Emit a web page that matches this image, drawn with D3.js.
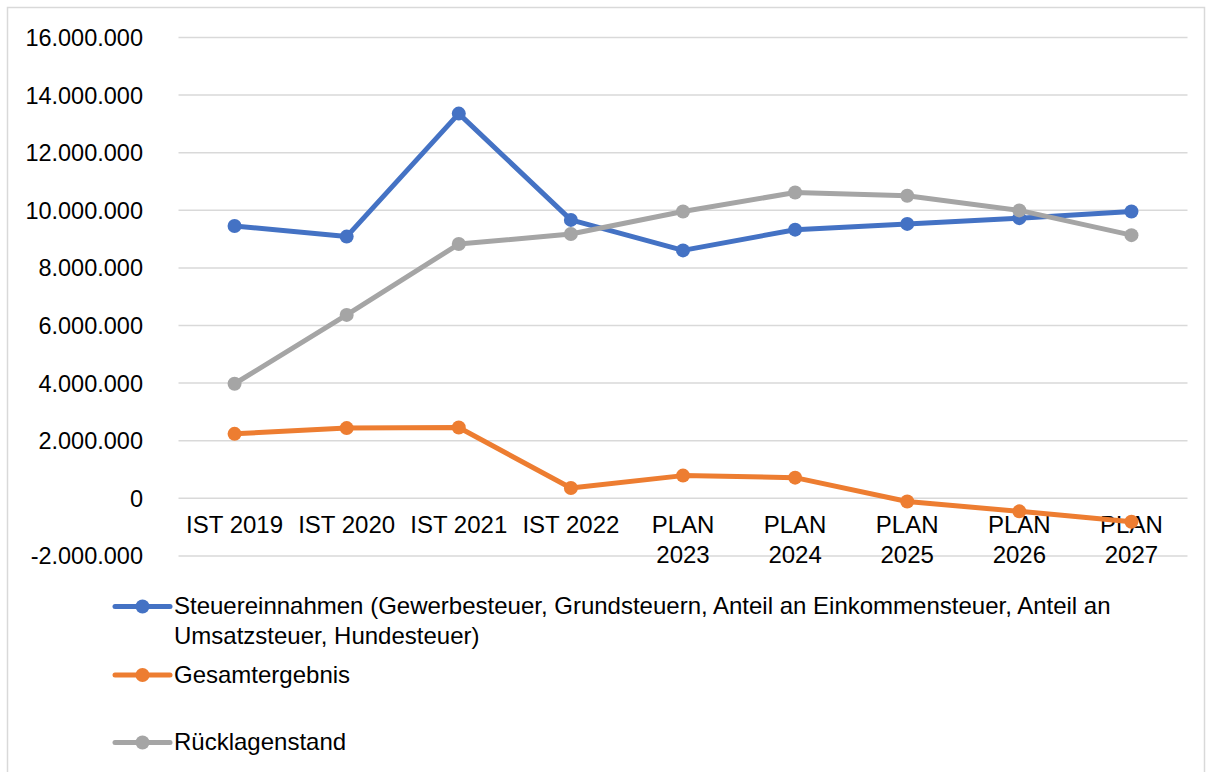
<!DOCTYPE html>
<html>
<head>
<meta charset="utf-8">
<script src="https://cdn.jsdelivr.net/npm/d3@7"></script>
<style>
  body { margin: 0; background: #fff; }
  svg { font-family: "Liberation Sans", Arial, sans-serif; }
  .axis text { font-size: 24px; fill: #000; }
  .axis.y text { font-size: 23.5px; }
  .grid line { stroke: #d9d9d9; stroke-width: 1.5; }
  .legend text { font-size: 24px; fill: #000; }
</style>
</head>
<body>
<div id="chart"></div>
<script>
const categories = ['IST 2019', 'IST 2020', 'IST 2021', 'IST 2022', 'PLAN 2023', 'PLAN 2024', 'PLAN 2025', 'PLAN 2026', 'PLAN 2027'];
const steuern = [9440000, 9070000, 13340000, 9650000, 8590000, 9310000, 9510000, 9710000, 9940000];
const gesamt = [2220000, 2420000, 2440000, 340000, 770000, 700000, -130000, -470000, -830000];
const ruecklagen = [3960000, 6350000, 8810000, 9160000, 9940000, 10600000, 10490000, 9980000, 9120000];
const yTicks = [-2000000, 0, 2000000, 4000000, 6000000, 8000000, 10000000, 12000000, 14000000, 16000000];

const series = [
  { name: ['Steuereinnahmen (Gewerbesteuer, Grundsteuern, Anteil an Einkommensteuer, Anteil an', 'Umsatzsteuer, Hundesteuer)'], values: steuern, color: '#4472c4' },
  { name: ['Gesamtergebnis'], values: gesamt, color: '#ed7d31' },
  { name: ['Rücklagenstand'], values: ruecklagen, color: '#a5a5a5' }
];

const width = 1212;
const height = 772;
const margins = { top: 37, right: 24.5, left: 178.5, bottom: 0 };
const plotRight = width - margins.right;

const svg = d3.select('#chart')
  .append('svg')
  .attr('width', width)
  .attr('height', height);

// chart frame
svg.append('rect')
  .attr('x', 7.5)
  .attr('y', 7.5)
  .attr('width', 1197)
  .attr('height', 780)
  .attr('fill', 'none')
  .attr('stroke', '#d9d9d9')
  .attr('stroke-width', 1.5);

const xScale = d3.scalePoint()
  .domain(categories)
  .range([margins.left, plotRight])
  .padding(0.5);

const yScale = d3.scaleLinear()
  .domain([-2000000, 16000000])
  .range([555.4, 37]);

const de = d3.formatLocale({ decimal: ',', thousands: '.', grouping: [3], currency: ['', ' €'], minus: '-' });
const fmt = de.format(',.0f');

// grid
svg.append('g')
  .attr('class', 'grid')
  .attr('transform', `translate(${margins.left},0)`)
  .call(d3.axisLeft(yScale).tickValues(yTicks).tickSize(-(plotRight - margins.left)).tickFormat(''))
  .call(g => g.select('.domain').remove());

// y axis labels
svg.append('g')
  .attr('class', 'axis y')
  .attr('transform', 'translate(143,0)')
  .call(d3.axisLeft(yScale).tickValues(yTicks).tickSize(0).tickPadding(0).tickFormat(fmt))
  .call(g => g.select('.domain').remove())
  .call(g => g.selectAll('text').attr('dy', '0.36em'));

// x axis labels
const xLabels = svg.append('g')
  .attr('class', 'axis x')
  .selectAll('text')
  .data(categories)
  .enter()
  .append('text')
  .attr('x', d => xScale(d))
  .attr('y', 533)
  .style('text-anchor', 'middle');

xLabels.each(function (d) {
  const lines = d.startsWith('PLAN') ? d.split(' ') : [d];
  d3.select(this).selectAll('tspan')
    .data(lines)
    .enter()
    .append('tspan')
    .attr('x', xScale(d))
    .attr('dy', (l, i) => i === 0 ? 0 : 29.5)
    .text(l => l);
});

// lines + markers
const line = d3.line()
  .x((d, i) => xScale(categories[i]))
  .y(d => yScale(d));

series.forEach(s => {
  svg.append('path')
    .attr('d', line(s.values))
    .attr('fill', 'none')
    .attr('stroke', s.color)
    .attr('stroke-width', 5)
    .attr('stroke-linejoin', 'round');

  svg.append('g')
    .selectAll('circle')
    .data(s.values)
    .enter()
    .append('circle')
    .attr('cx', (d, i) => xScale(categories[i]))
    .attr('cy', d => yScale(d))
    .attr('r', 7)
    .attr('fill', s.color);
});

// legend
const legendY = [606.5, 675, 742.5];
const legend = svg.append('g').attr('class', 'legend');

series.forEach((s, i) => {
  const g = legend.append('g').attr('transform', `translate(0,${legendY[i]})`);
  g.append('line')
    .attr('x1', 115)
    .attr('x2', 170)
    .attr('stroke', s.color)
    .attr('stroke-width', 5)
    .attr('stroke-linecap', 'round');
  g.append('circle')
    .attr('cx', 142.5)
    .attr('r', 7)
    .attr('fill', s.color);
  g.append('text')
    .attr('x', 174)
    .attr('y', 7.5)
    .selectAll('tspan')
    .data(s.name)
    .enter()
    .append('tspan')
    .attr('x', 174)
    .attr('dy', (l, j) => j === 0 ? 0 : 30)
    .text(l => l);
});
</script>
</body>
</html>
